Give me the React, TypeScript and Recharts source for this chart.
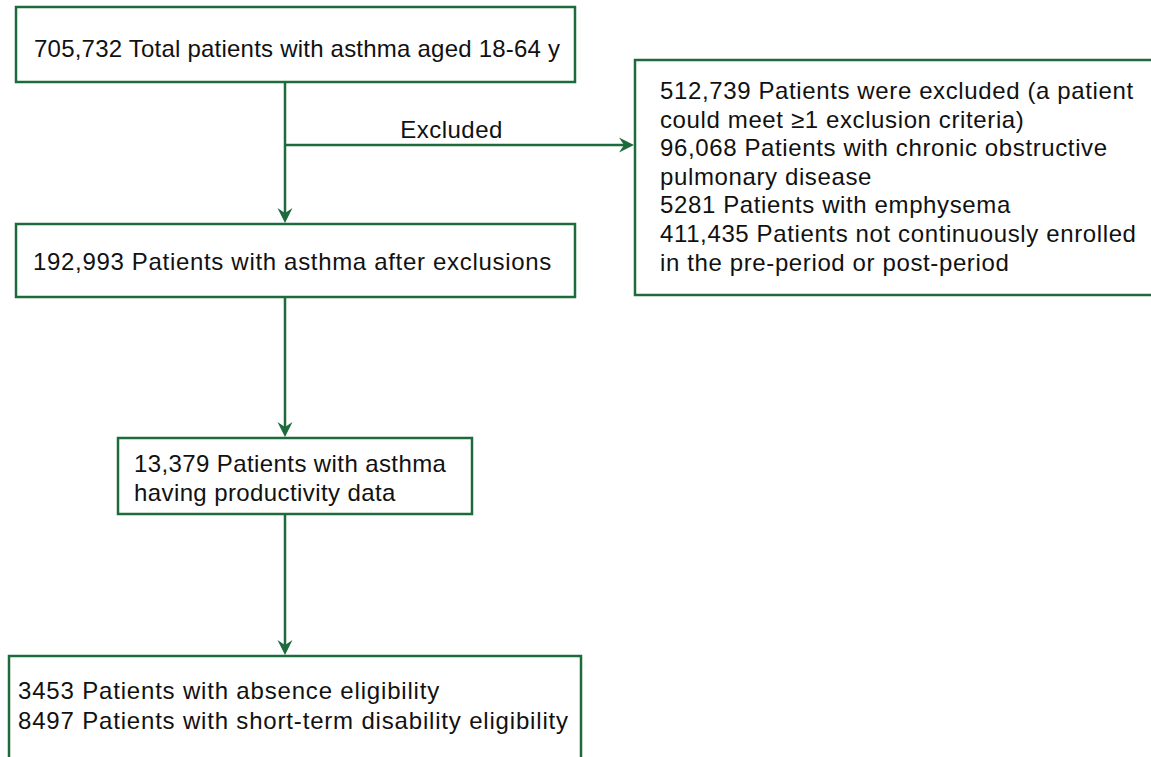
import React from 'react';
import { ComposedChart, XAxis, YAxis, ReferenceArea, ReferenceLine, Label } from 'recharts';

const W = 1151;
const H = 757;
const GREEN = '#1d6b3c';
const FONT = '"Liberation Sans", Arial, Helvetica, sans-serif';

// flow text, one array per box
const totalLines = ['705,732 Total patients with asthma aged 18-64 y'];
const excludedLines = [
  '512,739 Patients were excluded (a patient',
  'could meet \u22651 exclusion criteria)',
  '96,068 Patients with chronic obstructive',
  'pulmonary disease',
  '5281 Patients with emphysema',
  '411,435 Patients not continuously enrolled',
  'in the pre-period or post-period',
];
const afterLines = ['192,993 Patients with asthma after exclusions'];
const productivityLines = ['13,379 Patients with asthma', 'having productivity data'];
const eligibilityLines = [
  '3453 Patients with absence eligibility',
  '8497 Patients with short-term disability eligibility',
];
const excludedLabel = 'Excluded';

// layout in pixels (y grows downwards)
const boxes = [
  { id: 'total', lines: totalLines, x1: 16, x2: 575, y1: 7, y2: 82, padX: 18, base: 50, lh: 29, ls: 0.22 },
  { id: 'excluded', lines: excludedLines, x1: 635, x2: 1165, y1: 60, y2: 295, padX: 25, base: 39, lh: 28.6, ls: 0.62 },
  { id: 'after', lines: afterLines, x1: 16, x2: 575, y1: 224, y2: 297, padX: 17, base: 46, lh: 29, ls: 0.68 },
  { id: 'prod', lines: productivityLines, x1: 118, x2: 472, y1: 438, y2: 514, padX: 16, base: 34, lh: 29, ls: 0.4 },
  { id: 'elig', lines: eligibilityLines, x1: 9, x2: 581, y1: 656, y2: 780, padX: 9, base: 43, lh: 30, ls: 0.82 },
];

const SPINE_X = 285;
const links = [
  { id: 'a1', from: { x: SPINE_X, y: 82 }, to: { x: SPINE_X, y: 223 } },
  { id: 'a2', from: { x: SPINE_X, y: 145 }, to: { x: 634, y: 145 }, label: excludedLabel },
  { id: 'a3', from: { x: SPINE_X, y: 297 }, to: { x: SPINE_X, y: 437 } },
  { id: 'a4', from: { x: SPINE_X, y: 514 }, to: { x: SPINE_X, y: 655 } },
];

const ArrowLine = (props: any) => {
  const { x1, y1, x2, y2 } = props;
  const dx = x2 - x1;
  const dy = y2 - y1;
  const len = Math.hypot(dx, dy) || 1;
  const ux = dx / len;
  const uy = dy / len;
  const px = -uy;
  const py = ux;
  const L = 15;
  const hw = 7.5;
  const notch = 5;
  const bx = x2 - ux * L;
  const by = y2 - uy * L;
  const nx = x2 - ux * (L - notch);
  const ny = y2 - uy * (L - notch);
  const pts = [
    [x2, y2],
    [bx + px * hw, by + py * hw],
    [nx, ny],
    [bx - px * hw, by - py * hw],
  ]
    .map((p) => p.join(','))
    .join(' ');
  return (
    <g>
      <line x1={x1} y1={y1} x2={nx} y2={ny} stroke={GREEN} strokeWidth={2.5} />
      <polygon points={pts} fill={GREEN} />
    </g>
  );
};

const boxText = (lines: string[], padX: number, base: number, lh: number, ls: number) => (props: any) => {
  const vb = props.viewBox || {};
  return (
    <text
      x={vb.x + padX}
      y={vb.y + base}
      fill="#111"
      fontSize={24}
      fontFamily={FONT}
      letterSpacing={ls}
      textAnchor="start"
    >
      {lines.map((t, i) => (
        <tspan key={i} x={vb.x + padX} y={vb.y + base + i * lh}>
          {t}
        </tspan>
      ))}
    </text>
  );
};

const arrowText = (text: string) => (props: any) => {
  const vb = props.viewBox || {};
  return (
    <text
      x={vb.x + vb.width / 2 - 8}
      y={vb.y - 7}
      fill="#111"
      fontSize={24}
      fontFamily={FONT}
      letterSpacing={0.5}
      textAnchor="middle"
    >
      {text}
    </text>
  );
};

export default function App() {
  return (
    <div style={{ position: 'absolute', left: 0, top: 0, width: W, height: H, background: '#fff' }}>
      <ComposedChart width={W} height={H} data={[]} margin={{ top: 0, right: 0, bottom: 0, left: 0 }}>
        <XAxis type="number" dataKey="x" domain={[0, W]} hide allowDataOverflow />
        <YAxis type="number" dataKey="y" domain={[0, H]} reversed hide allowDataOverflow />
        {links.map((l) => (
          <ReferenceLine
            key={l.id}
            segment={[l.from, l.to]}
            ifOverflow="visible"
            shape={ArrowLine}
          >
            {l.label ? <Label content={arrowText(l.label)} /> : null}
          </ReferenceLine>
        ))}
        {boxes.map((b) => (
          <ReferenceArea
            key={b.id}
            x1={b.x1}
            x2={b.x2}
            y1={b.y1}
            y2={b.y2}
            ifOverflow="hidden"
            fill="#fff"
            fillOpacity={1}
            stroke={GREEN}
            strokeWidth={2.5}
          >
            <Label content={boxText(b.lines, b.padX, b.base, b.lh, b.ls)} />
          </ReferenceArea>
        ))}
      </ComposedChart>
    </div>
  );
}
